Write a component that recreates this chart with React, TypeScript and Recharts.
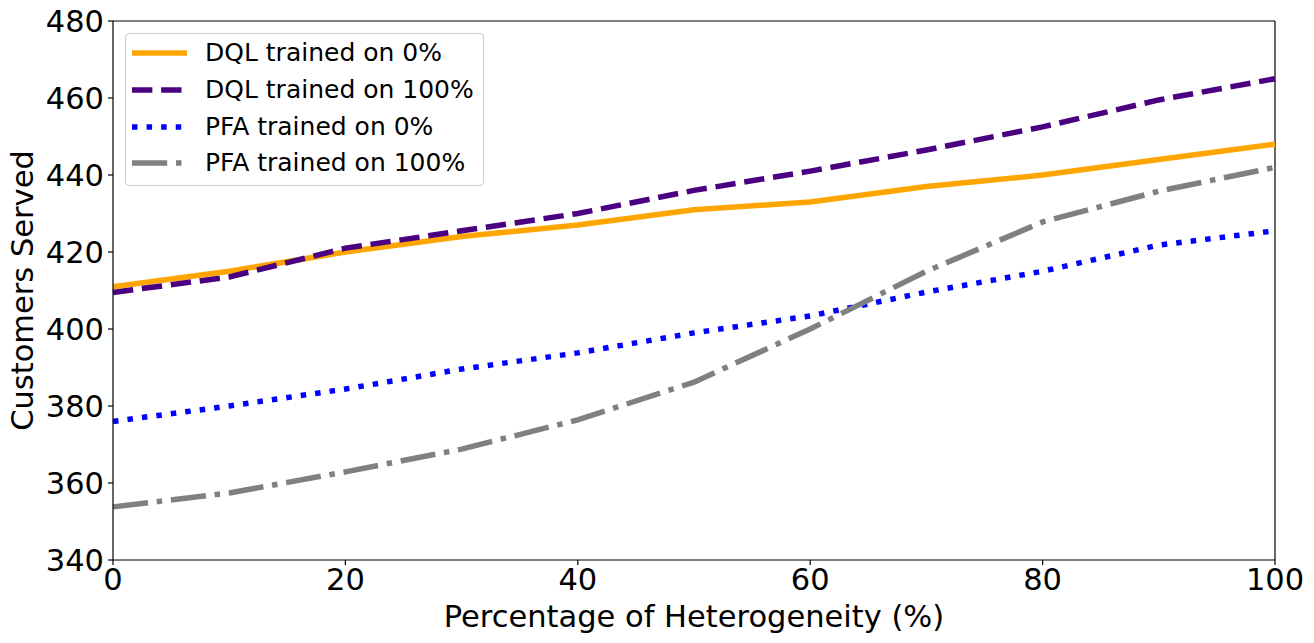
import React from 'react';
import {
    LineChart,
    Line,
    XAxis,
    YAxis,
    Legend,
    ReferenceLine,
} from 'recharts';

// heterogeneity levels (%)
const heterogeneity = [0, 10, 20, 30, 40, 50, 60, 70, 80, 90, 100];

// customers served per policy
const dqlTrained0 = [411, 415, 420, 424, 427, 431, 433, 437, 440, 444, 448];
const dqlTrained100 = [409.5, 413.5, 421, 425.5, 430, 436, 441, 446.5, 452.5, 459.5, 465];
const pfaTrained0 = [376, 380, 384.4, 389.6, 393.8, 399, 403.4, 409.6, 415, 421.8, 425.5];
const pfaTrained100 = [353.8, 357.4, 362.9, 368.8, 376.4, 386.2, 400, 415, 427.8, 435.8, 442];

const xTicks = [0, 20, 40, 60, 80, 100];
const yTicks = [340, 360, 380, 400, 420, 440, 460, 480];

const FONT = '"DejaVu Sans", sans-serif';
const LW = 5.5;

const SERIES = [
    { key: 'dql0', name: 'DQL trained on 0%', color: '#FFA500', dash: undefined as string | undefined },
    { key: 'dql100', name: 'DQL trained on 100%', color: '#4B0082', dash: `${3.7 * LW} ${1.6 * LW}` },
    { key: 'pfa0', name: 'PFA trained on 0%', color: '#0000FF', dash: `${1 * LW} ${1.65 * LW}` },
    { key: 'pfa100', name: 'PFA trained on 100%', color: '#808080', dash: `${6.4 * LW} ${1.6 * LW} ${1 * LW} ${1.6 * LW}` },
];

const chartData = heterogeneity.map((h, i) => ({
    h,
    dql0: dqlTrained0[i],
    dql100: dqlTrained100[i],
    pfa0: pfaTrained0[i],
    pfa100: pfaTrained100[i],
}));

const renderLegend = () => (
    <div
        style={{
            width: 357,
            height: 151,
            border: '1px solid #cccccc',
            borderRadius: 4,
            background: 'rgba(255,255,255,0.8)',
            boxSizing: 'content-box',
            position: 'relative',
            fontFamily: FONT,
        }}
    >
        {SERIES.map((s, i) => (
            <div
                key={s.key}
                style={{
                    position: 'absolute',
                    left: 0,
                    top: 1 + i * 36.7,
                    height: 36.7,
                    display: 'flex',
                    alignItems: 'center',
                }}
            >
                <svg width={62} height={12} style={{ marginLeft: 6, display: 'block' }}>
                    <line
                        x1={0}
                        y1={6}
                        x2={55}
                        y2={6}
                        stroke={s.color}
                        strokeWidth={LW}
                        strokeDasharray={s.dash}
                    />
                </svg>
                <span style={{ marginLeft: 11, fontSize: 25, color: '#000', whiteSpace: 'nowrap', lineHeight: '36px' }}>
                    {s.name}
                </span>
            </div>
        ))}
    </div>
);

export default function App() {
    const tickStyle = { fill: '#000', fontSize: 30.5, fontFamily: FONT };
    return (
        <div style={{ position: 'absolute', left: 0, top: 0, width: 1314, height: 643, background: '#fff' }}>
            <LineChart
                width={1314}
                height={643}
                data={chartData}
                margin={{ top: 21, right: 39, bottom: 0, left: 0 }}
            >
                <XAxis
                    dataKey="h"
                    type="number"
                    domain={[0, 100]}
                    ticks={xTicks}
                    height={83}
                    stroke="#000"
                    strokeWidth={1.2}
                    tickSize={5}
                    tickMargin={3}
                    tick={tickStyle}
                    label={{
                        value: 'Percentage of Heterogeneity (%)',
                        position: 'insideBottom',
                        offset: 16,
                        style: { fill: '#000', fontSize: 30.5, fontFamily: FONT },
                    }}
                />
                <YAxis
                    type="number"
                    domain={[340, 480]}
                    ticks={yTicks}
                    width={113}
                    stroke="#000"
                    strokeWidth={1.2}
                    tickSize={5}
                    tickMargin={4}
                    tick={tickStyle}
                    label={{
                        value: 'Customers Served',
                        angle: -90,
                        position: 'insideLeft',
                        offset: 22,
                        style: { fill: '#000', fontSize: 30.5, fontFamily: FONT, textAnchor: 'middle' },
                    }}
                />
                <ReferenceLine y={480} stroke="#000" strokeWidth={1.2} />
                <ReferenceLine x={100} stroke="#000" strokeWidth={1.2} />
                {SERIES.map((s) => (
                    <Line
                        key={s.key}
                        type="linear"
                        dataKey={s.key}
                        name={s.name}
                        stroke={s.color}
                        strokeWidth={LW}
                        strokeDasharray={s.dash}
                        strokeLinecap="butt"
                        dot={false}
                        activeDot={false}
                        isAnimationActive={false}
                    />
                ))}
                <Legend
                    layout="vertical"
                    align="center"
                    verticalAlign="middle"
                    content={renderLegend}
                    wrapperStyle={{ top: 33, left: 125, width: 'auto', height: 'auto' }}
                />
            </LineChart>
        </div>
    );
}
